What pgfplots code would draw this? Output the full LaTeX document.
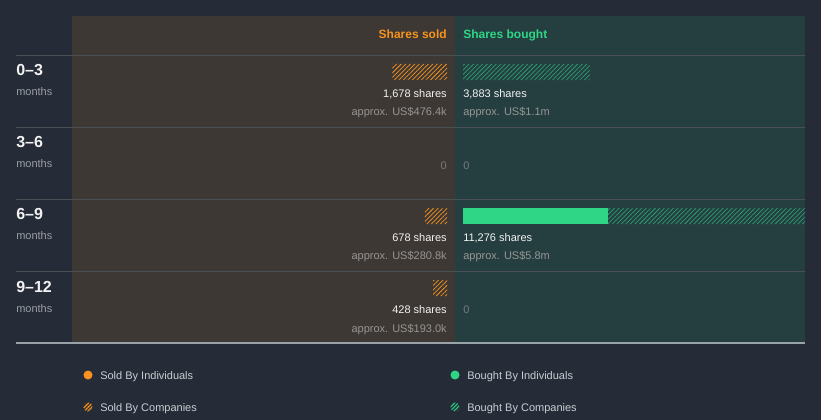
\documentclass[border=0pt]{standalone}
\usepackage{fontspec}
\setmainfont{Liberation Sans}
\usepackage{pgfplots}
\pgfplotsset{compat=1.18}
\usetikzlibrary{patterns.meta}
\definecolor{bg}{HTML}{262B38}
\definecolor{soldbg}{HTML}{3D3834}
\definecolor{boughtbg}{HTML}{253F41}
\definecolor{gridc}{HTML}{4A5053}
\definecolor{basec}{HTML}{9AA3A8}
\definecolor{orng}{HTML}{F7931E}
\definecolor{grn}{HTML}{2ED686}
\definecolor{grnh}{HTML}{2A9E72}
\definecolor{wtxt}{HTML}{F2F2F2}
\definecolor{gtxt}{HTML}{959595}
\definecolor{ztxt}{HTML}{7A7A7A}
\definecolor{ltxt}{HTML}{C9CDD2}
\definecolor{mtxt}{HTML}{9A9EA6}
\newcommand{\fs}[1]{\fontsize{#1}{#1}\selectfont}
\begin{document}
\begin{tikzpicture}[x=0.75pt,y=-0.75pt]
\fill[bg] (0,0) rectangle (821,420);
\fill[soldbg] (72,16) rectangle (455,343);
\fill[boughtbg] (455,16) rectangle (805,343);
\foreach \y in {56,128,200,272} \draw[gridc,line width=0.75pt] (16,\y) -- (805,\y);
\draw[basec,line width=0.9pt] (16,343) -- (805,343);

% sold axis
\begin{axis}[at={(54pt,0pt)}, anchor=north west, scale only axis,
  width=281.25pt, height=315pt, hide axis,
  xmin=0, xmax=11503, x dir=reverse,
  ymin=0, ymax=420, y dir=reverse,
  xbar stacked, bar width=16]
\addplot[draw=none, fill=orng] coordinates {(0,72) (0,144) (0,216) (0,288)};
\addplot[draw=none, pattern={Lines[angle=45,distance=2.4pt,line width=0.55pt]}, pattern color=orng]
  coordinates {(1678,72) (0,144) (678,216) (428,288)};
\end{axis}

% bought axis
\begin{axis}[at={(347.25pt,0pt)}, anchor=north west, scale only axis,
  width=256.5pt, height=315pt, hide axis,
  xmin=0, xmax=10491,
  ymin=0, ymax=420, y dir=reverse,
  xbar stacked, bar width=16]
\addplot[draw=none, fill=grn] coordinates {(0,72) (0,144) (4448,216) (0,288)};
\addplot[draw=none, pattern={Lines[angle=45,distance=2.4pt,line width=0.55pt]}, pattern color=grnh]
  coordinates {(3883,72) (0,144) (6828,216) (0,288)};
\end{axis}

% headers
\node[anchor=base east, inner sep=0, text=orng, font=\fs{9}\bfseries] at (447,39) {Shares sold};
\node[anchor=base west, inner sep=0, text=grn, font=\fs{9}\bfseries] at (463,39) {Shares bought};

% category labels
\foreach \lab [count=\i from 0] in {0--3,3--6,6--9,9--12} {
  \node[anchor=base west, inner sep=0, text=wtxt, font=\fs{12}\bfseries] at (16,76+72*\i) {\lab};
  \node[anchor=base west, inner sep=0, text=mtxt, font=\fs{8.25}] at (16,96+72*\i) {months};
}

% sold texts
\node[anchor=base east, inner sep=0, text=wtxt, font=\fs{8.25}] at (447,98) {1,678 shares};
\node[anchor=base east, inner sep=0, text=gtxt, font=\fs{8.25}] at (447,116) {approx. US\$476.4k};
\node[anchor=base east, inner sep=0, text=ztxt, font=\fs{8.25}] at (447,170) {0};
\node[anchor=base east, inner sep=0, text=wtxt, font=\fs{8.25}] at (447,242) {678 shares};
\node[anchor=base east, inner sep=0, text=gtxt, font=\fs{8.25}] at (447,260) {approx. US\$280.8k};
\node[anchor=base east, inner sep=0, text=wtxt, font=\fs{8.25}] at (447,314) {428 shares};
\node[anchor=base east, inner sep=0, text=gtxt, font=\fs{8.25}] at (447,332) {approx. US\$193.0k};

% bought texts
\node[anchor=base west, inner sep=0, text=wtxt, font=\fs{8.25}] at (463,98) {3,883 shares};
\node[anchor=base west, inner sep=0, text=gtxt, font=\fs{8.25}] at (463,116) {approx. US\$1.1m};
\node[anchor=base west, inner sep=0, text=ztxt, font=\fs{8.25}] at (463,170) {0};
\node[anchor=base west, inner sep=0, text=wtxt, font=\fs{8.25}] at (463,242) {11,276 shares};
\node[anchor=base west, inner sep=0, text=gtxt, font=\fs{8.25}] at (463,260) {approx. US\$5.8m};
\node[anchor=base west, inner sep=0, text=ztxt, font=\fs{8.25}] at (463,314) {0};

% legend
\fill[orng] (88,375) circle[radius=4.5];
\fill[soldbg] (88,407) circle[radius=4.5];
\fill[pattern={Lines[angle=45,distance=2pt,line width=0.75pt]}, pattern color=orng] (88,407) circle[radius=4.5];
\fill[grn] (455,375) circle[radius=4.5];
\fill[boughtbg] (455,407) circle[radius=4.5];
\fill[pattern={Lines[angle=45,distance=2pt,line width=0.75pt]}, pattern color=grn] (455,407) circle[radius=4.5];
\node[anchor=base west, inner sep=0, text=ltxt, font=\fs{8.25}] at (100,379) {Sold By Individuals};
\node[anchor=base west, inner sep=0, text=ltxt, font=\fs{8.25}] at (100,411) {Sold By Companies};
\node[anchor=base west, inner sep=0, text=ltxt, font=\fs{8.25}] at (467,379) {Bought By Individuals};
\node[anchor=base west, inner sep=0, text=ltxt, font=\fs{8.25}] at (467,411) {Bought By Companies};
\end{tikzpicture}
\end{document}
